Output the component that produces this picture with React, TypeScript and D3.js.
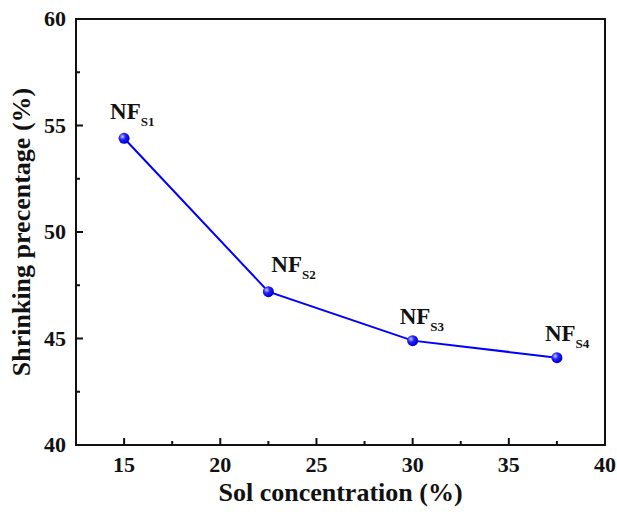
import React, { useEffect, useRef } from "react";
import * as d3 from "d3";

// Sol concentration (%) for each sample
const solConcentration = [15, 22.5, 30, 37.5];
// Shrinking percentage (%)
const shrinking = [54.4, 47.2, 44.9, 44.1];
// Sample subscripts
const sampleSubs = ["S1", "S2", "S3", "S4"];

const xTicks = [15, 20, 25, 30, 35, 40];
const xMinor = [17.5, 22.5, 27.5, 32.5, 37.5];
const yTicks = [40, 45, 50, 55, 60];
const yMinor = [42.5, 47.5, 52.5, 57.5];

// label offsets relative to each point (dx, dy of the "NF" baseline start)
const labelOffsets = [
  [-14, -19],
  [3, -20],
  [-13, -17],
  [-12, -17],
];

const App: React.FC = () => {
  const svgRef = useRef<SVGSVGElement | null>(null);

  useEffect(() => {
    if (!svgRef.current) return;
    const svg = d3.select(svgRef.current);
    svg.selectAll("*").remove();

    const width = 617;
    const height = 514;
    const margin = { top: 19, right: 12, bottom: 69, left: 76 };
    const w = width - margin.left - margin.right;
    const h = height - margin.top - margin.bottom;
    const font = "'Liberation Serif', 'Times New Roman', serif";
    const ink = "#111";
    const blue = "#0000ff";

    svg.attr("width", width).attr("height", height);

    const defs = svg.append("defs");
    const grad = defs
      .append("radialGradient")
      .attr("id", "ball")
      .attr("cx", "35%")
      .attr("cy", "35%")
      .attr("r", "65%");
    grad.append("stop").attr("offset", "0%").attr("stop-color", "#c8c8ff");
    grad.append("stop").attr("offset", "45%").attr("stop-color", "#2020ff");
    grad.append("stop").attr("offset", "100%").attr("stop-color", "#0000c8");

    const g = svg
      .append("g")
      .attr("transform", `translate(${margin.left}, ${margin.top})`);

    const x = d3.scaleLinear().domain([12.5, 40]).range([0, w]);
    const y = d3.scaleLinear().domain([40, 60]).range([h, 0]);

    // frame
    g.append("rect")
      .attr("x", 0)
      .attr("y", 0)
      .attr("width", w)
      .attr("height", h)
      .attr("fill", "none")
      .attr("stroke", ink)
      .attr("stroke-width", 2);

    // x ticks (inward)
    g.selectAll(".xt")
      .data(xTicks)
      .enter()
      .append("line")
      .attr("x1", (d) => x(d))
      .attr("x2", (d) => x(d))
      .attr("y1", h)
      .attr("y2", h - 7)
      .attr("stroke", ink)
      .attr("stroke-width", 2);
    g.selectAll(".xm")
      .data(xMinor)
      .enter()
      .append("line")
      .attr("x1", (d) => x(d))
      .attr("x2", (d) => x(d))
      .attr("y1", h)
      .attr("y2", h - 4)
      .attr("stroke", ink)
      .attr("stroke-width", 2);
    g.selectAll(".xl")
      .data(xTicks)
      .enter()
      .append("text")
      .attr("x", (d) => x(d))
      .attr("y", h + 27)
      .attr("text-anchor", "middle")
      .attr("font-family", font)
      .attr("font-weight", "bold")
      .attr("font-size", 22)
      .attr("fill", ink)
      .text((d) => d.toString());

    // y ticks (inward)
    g.selectAll(".yt")
      .data(yTicks)
      .enter()
      .append("line")
      .attr("x1", 0)
      .attr("x2", 7)
      .attr("y1", (d) => y(d))
      .attr("y2", (d) => y(d))
      .attr("stroke", ink)
      .attr("stroke-width", 2);
    g.selectAll(".ym")
      .data(yMinor)
      .enter()
      .append("line")
      .attr("x1", 0)
      .attr("x2", 4)
      .attr("y1", (d) => y(d))
      .attr("y2", (d) => y(d))
      .attr("stroke", ink)
      .attr("stroke-width", 2);
    g.selectAll(".yl")
      .data(yTicks)
      .enter()
      .append("text")
      .attr("x", -10)
      .attr("y", (d) => y(d))
      .attr("dy", "0.34em")
      .attr("text-anchor", "end")
      .attr("font-family", font)
      .attr("font-weight", "bold")
      .attr("font-size", 22)
      .attr("fill", ink)
      .text((d) => d.toString());

    // axis titles
    g.append("text")
      .attr("x", w / 2)
      .attr("y", h + 56)
      .attr("text-anchor", "middle")
      .attr("font-family", font)
      .attr("font-weight", "bold")
      .attr("font-size", 26)
      .attr("fill", ink)
      .text("Sol concentration (%)");

    g.append("text")
      .attr("transform", "rotate(-90)")
      .attr("x", -h / 2)
      .attr("y", -46)
      .attr("text-anchor", "middle")
      .attr("font-family", font)
      .attr("font-weight", "bold")
      .attr("font-size", 26)
      .attr("fill", ink)
      .text("Shrinking precentage (%)");

    const data = solConcentration.map((c, i) => ({
      c,
      v: shrinking[i],
      sub: sampleSubs[i],
      off: labelOffsets[i],
    }));

    const line = d3
      .line<{ c: number; v: number }>()
      .x((d) => x(d.c))
      .y((d) => y(d.v));

    g.append("path")
      .datum(data)
      .attr("fill", "none")
      .attr("stroke", blue)
      .attr("stroke-width", 2)
      .attr("d", line);

    g.selectAll(".pt")
      .data(data)
      .enter()
      .append("circle")
      .attr("cx", (d) => x(d.c))
      .attr("cy", (d) => y(d.v))
      .attr("r", 5.5)
      .attr("fill", "url(#ball)");

    const labels = g
      .selectAll(".lab")
      .data(data)
      .enter()
      .append("text")
      .attr("x", (d) => x(d.c) + d.off[0])
      .attr("y", (d) => y(d.v) + d.off[1])
      .attr("font-family", font)
      .attr("font-weight", "bold")
      .attr("font-size", 23)
      .attr("fill", ink);
    labels.append("tspan").text("NF");
    labels
      .append("tspan")
      .attr("dy", 7)
      .attr("font-size", 13)
      .text((d) => d.sub);
  }, []);

  return (
    <svg
      ref={svgRef}
      style={{ position: "absolute", left: 0, top: 0, display: "block", background: "#fff" }}
    />
  );
};

export default App;
